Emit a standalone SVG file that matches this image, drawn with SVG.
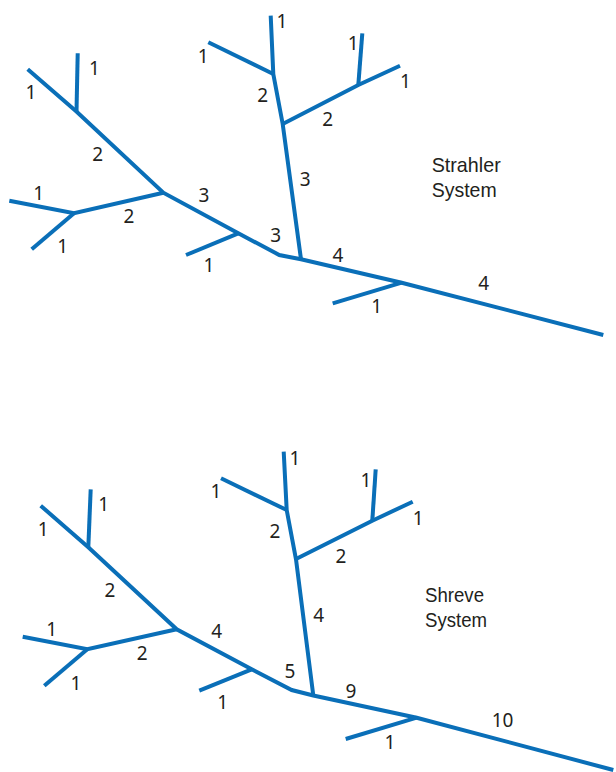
<svg xmlns="http://www.w3.org/2000/svg" width="616" height="772" viewBox="0 0 616 772">
<style>
.s{fill:none;stroke:#0a6fb8;stroke-width:4;stroke-linecap:butt;stroke-linejoin:miter}
.n{font-family:"Noto Sans","Open Sans","Liberation Sans",sans-serif;font-size:19px;fill:#231f20;text-anchor:middle}
.t{font-family:"Liberation Sans","Noto Sans",sans-serif;font-size:21px;fill:#231f20}
</style>
<rect width="616" height="772" fill="#fff"/>
<g id="strahler">
<g id="strahler-streams">
<polyline class="s" points="27.7,69.3 76.7,111.7 163.3,192.7 238.3,233.3 279.3,255 301,259.3 401.7,282.7 603.3,335"/>
<polyline class="s" points="77.7,53.3 76.5,111.7"/>
<polyline class="s" points="9.3,200.7 74,213.3 163.3,192.7"/>
<polyline class="s" points="31.7,249.3 74,213.3"/>
<polyline class="s" points="186,255 238.3,233.3"/>
<polyline class="s" points="270.7,15.7 273.3,74 282.7,124 301,259.3"/>
<polyline class="s" points="208.3,42.3 273.3,74"/>
<polyline class="s" points="282.7,124 358.3,85 400,65.7"/>
<polyline class="s" points="362.3,33.3 358.3,85"/>
<polyline class="s" points="332.7,303.3 401.7,282.7"/>
</g>
<g id="strahler-labels">
<text class="n" x="94.5" y="75">1</text>
<text class="n" x="31" y="99.3">1</text>
<text class="n" x="97.7" y="161">2</text>
<text class="n" x="38.8" y="200">1</text>
<text class="n" x="129" y="223">2</text>
<text class="n" x="62.7" y="253">1</text>
<text class="n" x="204" y="201.7">3</text>
<text class="n" x="275.7" y="241.7">3</text>
<text class="n" x="209" y="271.7">1</text>
<text class="n" x="203.3" y="63.3">1</text>
<text class="n" x="262.7" y="101.7">2</text>
<text class="n" x="282" y="28.3">1</text>
<text class="n" x="353.3" y="50">1</text>
<text class="n" x="405.5" y="88.3">1</text>
<text class="n" x="327.7" y="126">2</text>
<text class="n" x="305.2" y="186">3</text>
<text class="n" x="338" y="261.7">4</text>
<text class="n" x="376.7" y="313.3">1</text>
<text class="n" x="483.8" y="290">4</text>
<text class="t" x="431.7" y="171.7" textLength="69" lengthAdjust="spacingAndGlyphs">Strahler</text>
<text class="t" x="431.7" y="196.7" textLength="65" lengthAdjust="spacingAndGlyphs">System</text>
</g>
</g>
<g id="shreve">
<g id="shreve-streams">
<polyline class="s" points="40.7,505.7 88.3,547.3 176.7,629.3 251.7,669.3 291.7,690 313.3,695.5 416.7,717.7 613.3,770"/>
<polyline class="s" points="90.7,489.3 88.3,547.3"/>
<polyline class="s" points="22.7,636.7 87.3,649.3 176.7,629.3"/>
<polyline class="s" points="44.3,685.7 87.3,649.3"/>
<polyline class="s" points="199.3,690.7 251.7,669.3"/>
<polyline class="s" points="283.7,451.7 286.7,510 296,559.3 313.3,695.5"/>
<polyline class="s" points="221,478.3 286.7,510"/>
<polyline class="s" points="295.5,559.3 372.3,520.7 412.7,501.7"/>
<polyline class="s" points="375.7,469.3 372.3,520.7"/>
<polyline class="s" points="345.7,739 416.7,717.7"/>
</g>
<g id="shreve-labels">
<text class="n" x="103.7" y="510.7">1</text>
<text class="n" x="43.3" y="535.7">1</text>
<text class="n" x="110" y="596.7">2</text>
<text class="n" x="51.7" y="636">1</text>
<text class="n" x="142.3" y="660">2</text>
<text class="n" x="76" y="690">1</text>
<text class="n" x="216.8" y="638.3">4</text>
<text class="n" x="290" y="677.7">5</text>
<text class="n" x="222.7" y="709.3">1</text>
<text class="n" x="216" y="498.3">1</text>
<text class="n" x="275" y="538.3">2</text>
<text class="n" x="295" y="465">1</text>
<text class="n" x="366" y="486.7">1</text>
<text class="n" x="418.3" y="525">1</text>
<text class="n" x="341" y="563.3">2</text>
<text class="n" x="318.7" y="621.7">4</text>
<text class="n" x="351" y="698.3">9</text>
<text class="n" x="502.5" y="726.7">10</text>
<text class="n" x="390" y="749.3">1</text>
<text class="t" x="425" y="601.7" textLength="59" lengthAdjust="spacingAndGlyphs">Shreve</text>
<text class="t" x="425" y="626.7" textLength="62" lengthAdjust="spacingAndGlyphs">System</text>
</g>
</g>
</svg>
